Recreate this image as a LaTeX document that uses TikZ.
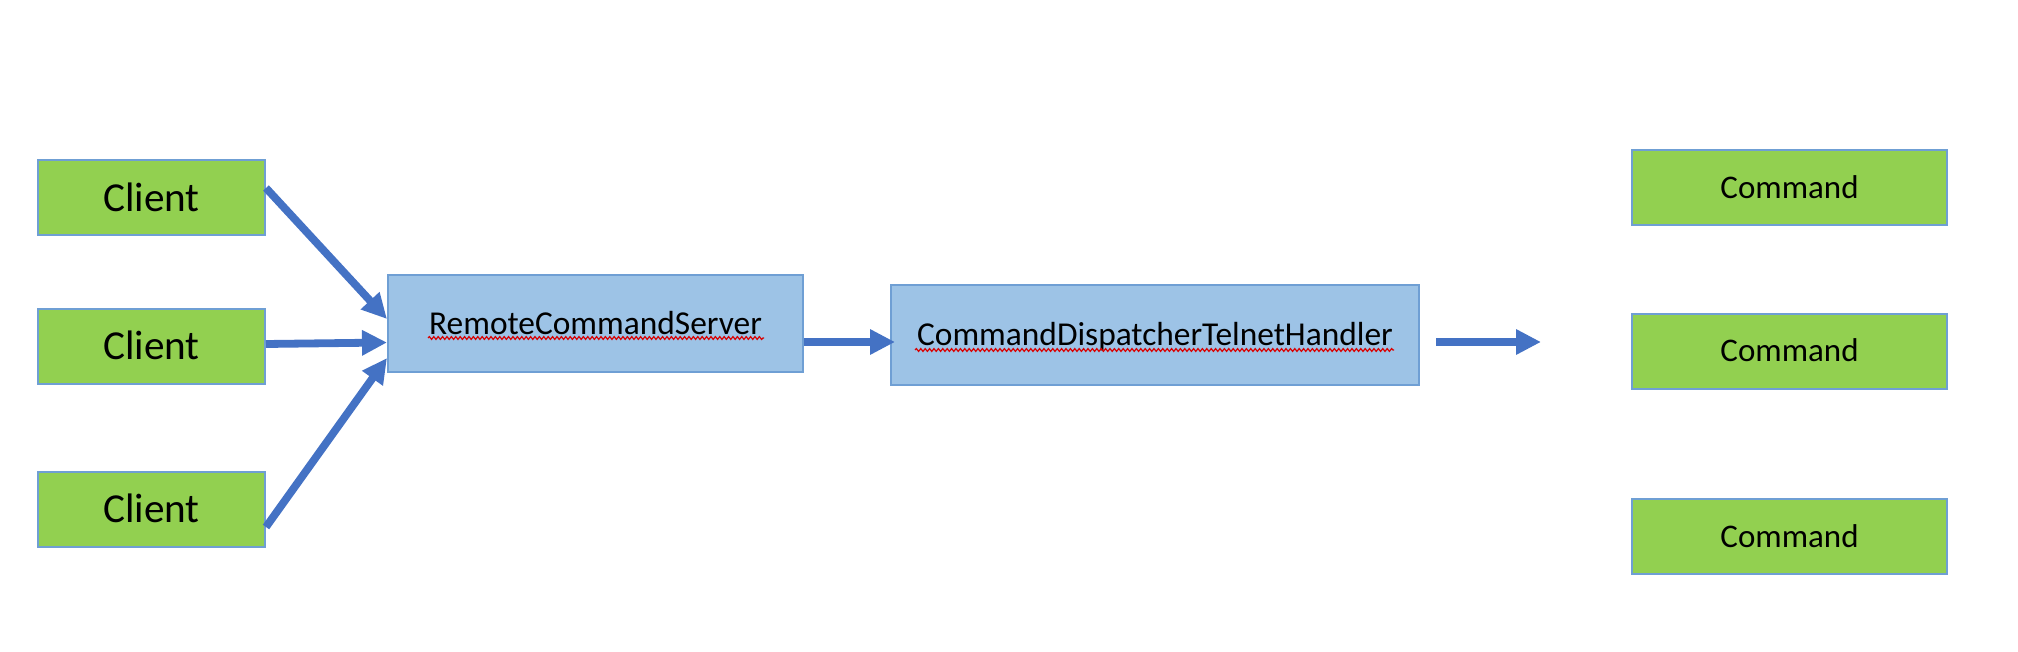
\documentclass[tikz,border=0pt]{standalone}
\usepackage{fontspec}
\setmainfont{Carlito}
\usetikzlibrary{arrows.meta,decorations.pathmorphing}
\definecolor{boxgreen}{HTML}{92D050}
\definecolor{boxblue}{HTML}{9DC3E6}
\definecolor{edgeblue}{HTML}{6F9FD4}
\definecolor{flowblue}{HTML}{4472C4}
\begin{document}
\begin{tikzpicture}[x=0.5pt, y=-0.5pt,
    box/.style={rectangle, draw=edgeblue, line width=1pt, text=black,
        text depth=0pt, inner sep=0pt},
    client/.style={box, fill=boxgreen, minimum width=113.5pt, minimum height=37.5pt,
        text height=13.3pt, font=\fontsize{20.6}{24}\selectfont},
    handler/.style={box, fill=boxblue, text height=10.8pt, font=\fontsize{16.7}{20}\selectfont},
    command/.style={box, fill=boxgreen, minimum width=157.5pt, minimum height=37.5pt,
        text height=10.7pt, font=\fontsize{16.5}{20}\selectfont},
    flow/.style={draw=flowblue, line width=3.9pt,
        -{Triangle[length=12.5pt, width=12pt]}},
    spell/.style={draw=red!85!black, line width=0.6pt,
        decorate, decoration={snake, amplitude=0.7pt, segment length=2.2pt}}]
    \useasboundingbox (0,0) rectangle (2018,652);

    \node[client] (Cl1) at (151.5,198) {Client};
    \node[client] (Cl2) at (151.5,346.5) {Client};
    \node[client] (Cl3) at (151.5,509) {Client};

    \node[handler, minimum width=207.5pt, minimum height=48.5pt] (Srv) at (595.5,323.5) {RemoteCommandServer};
    \node[handler, minimum width=264pt, minimum height=50pt] (Disp) at (1155,335) {CommandDispatcherTelnetHandler};

    \node[command] (Cmd1) at (1789.5,188) {Command};
    \node[command] (Cmd2) at (1789.5,351) {Command};
    \node[command] (Cmd3) at (1789.5,536.5) {Command};

    \draw[spell] (428,338) -- (764,338);
    \draw[spell] (915,350) -- (1394,350);

    \draw[flow] ([yshift=5pt]Cl1.east) -- ([yshift=2.25pt]Srv.west);
    \draw[flow] ([yshift=1.25pt]Cl2.east) -- ([yshift=-9.5pt]Srv.west);
    \draw[flow] ([yshift=-9pt]Cl3.east) -- ([yshift=-17.25pt]Srv.west);
    \draw[flow] ([yshift=-9.25pt]Srv.east) -- ([xshift=2.5pt, yshift=-3.5pt]Disp.west);

    \coordinate (Out) at (1436,342);
    \coordinate (OutEnd) at (1541,342);
    \draw[flow] (Out) -- (OutEnd);
\end{tikzpicture}
\end{document}
